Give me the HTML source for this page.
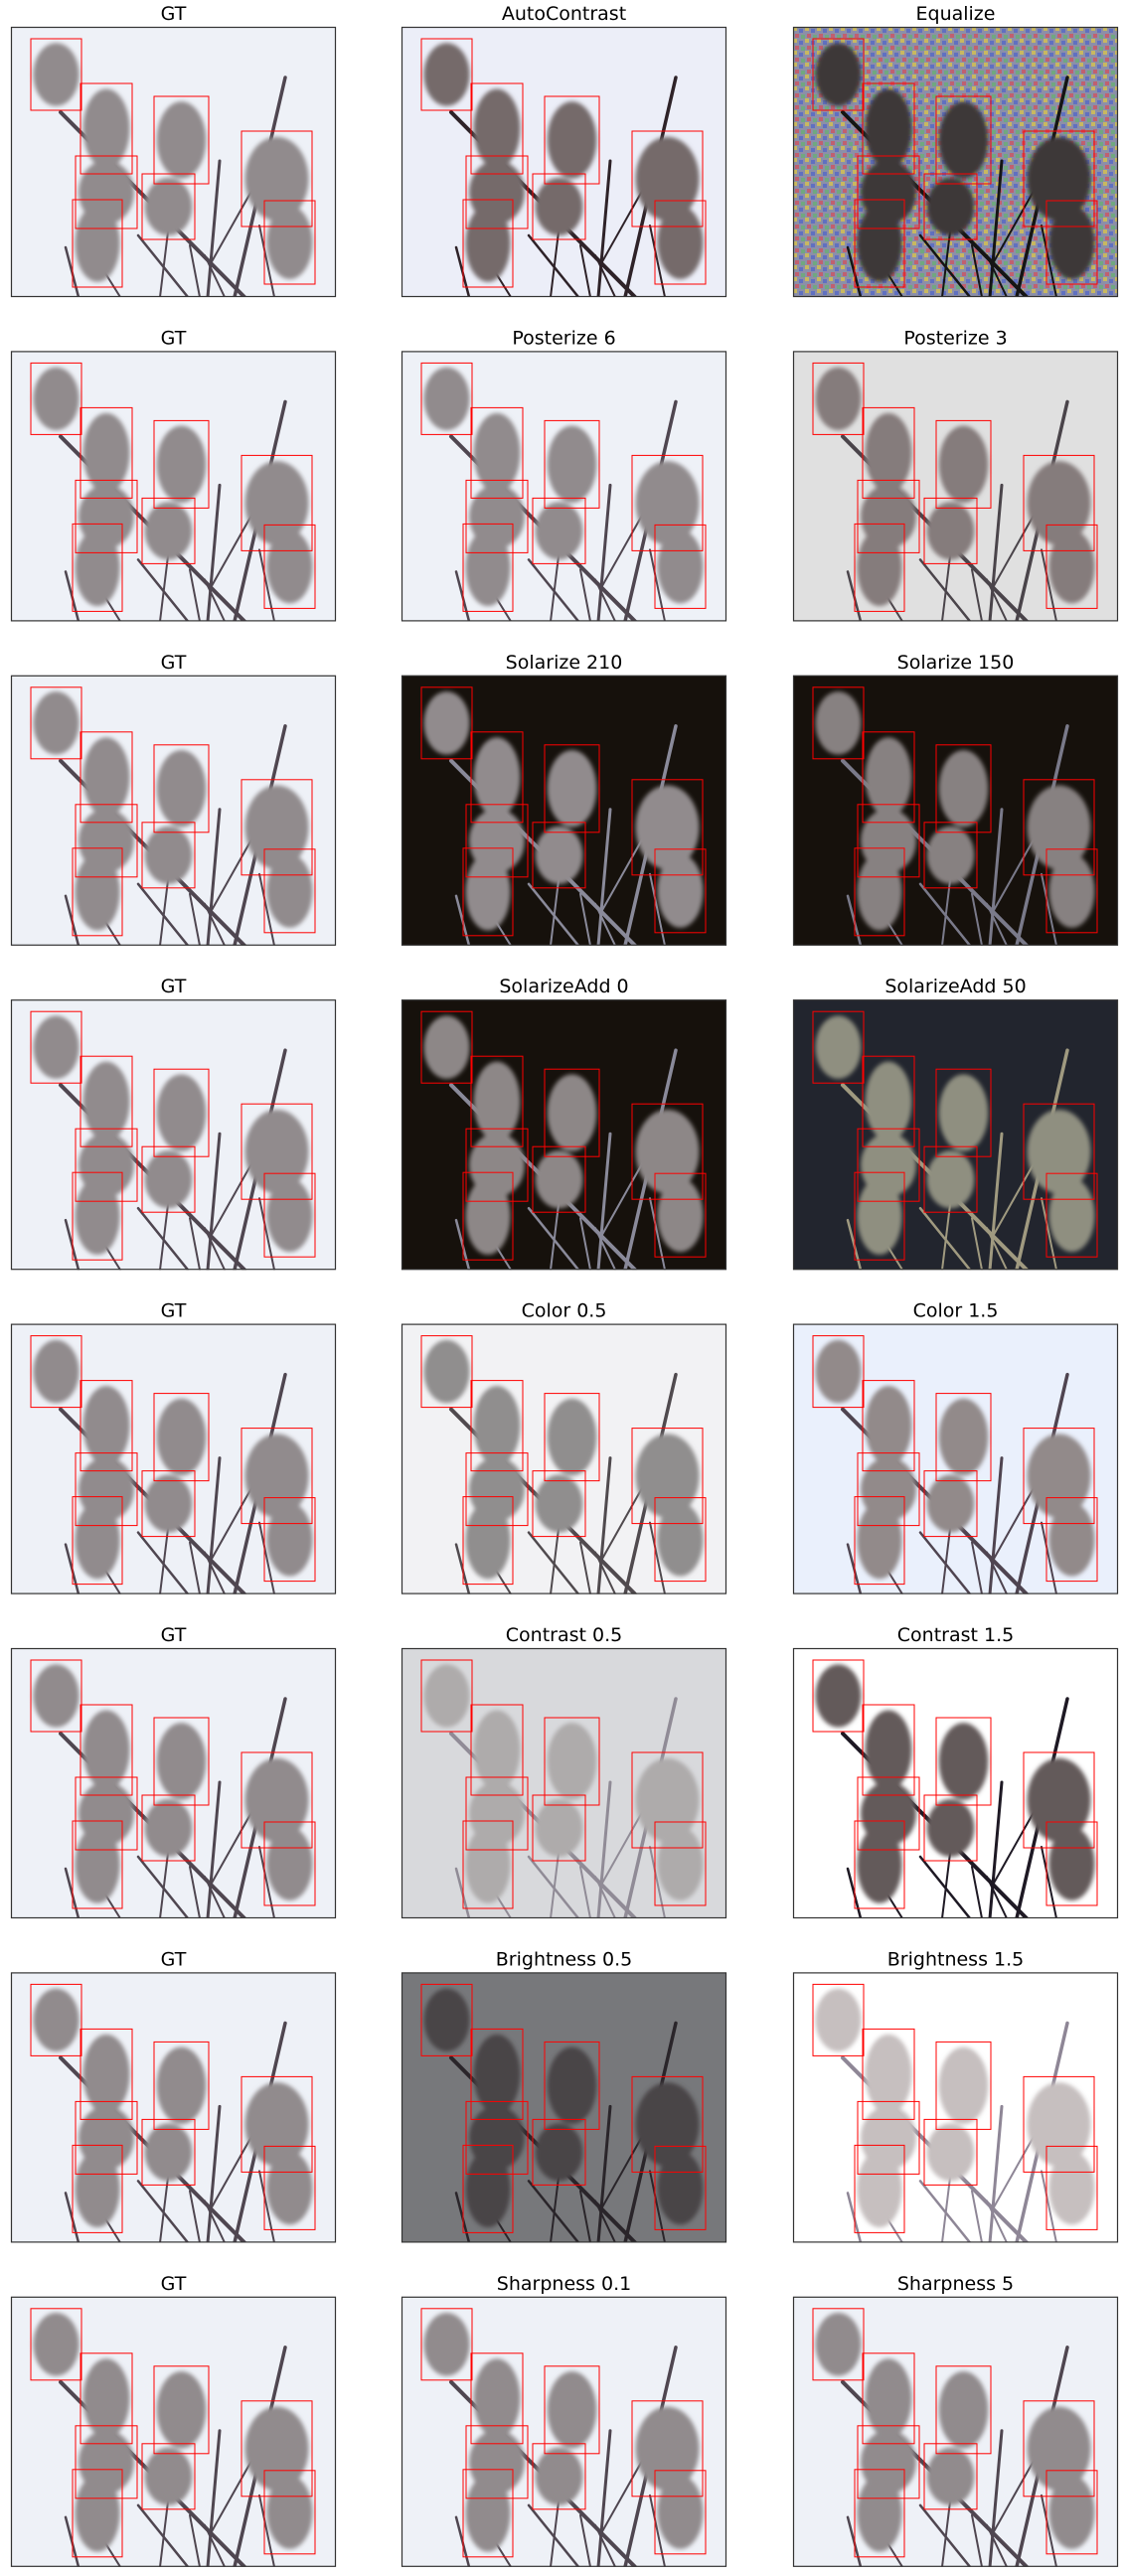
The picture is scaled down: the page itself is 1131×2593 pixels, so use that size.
<!DOCTYPE html>
<html><head><meta charset="utf-8"><style>
html,body{margin:0;padding:0;background:#fff}
svg{display:block}
</style></head><body>
<svg id="fig" width="1131" height="2593" viewBox="0 0 1131 2593" xmlns="http://www.w3.org/2000/svg">
<defs>
<pattern id="noise" width="12" height="12" patternUnits="userSpaceOnUse">
<rect width="12" height="12" fill="#8c8fa8"/>
<rect x="0" y="0" width="4" height="4" fill="#c8b860"/>
<rect x="6" y="2" width="4" height="4" fill="#6070c0"/>
<rect x="2" y="7" width="4" height="4" fill="#c06070"/>
<rect x="8" y="8" width="4" height="4" fill="#70a880"/>
</pattern>
<filter id="soft" x="-20%" y="-20%" width="140%" height="140%"><feGaussianBlur stdDeviation="2"/></filter>
</defs>
</svg>
<script>
const titles=[["GT","AutoContrast","Equalize"],["GT","Posterize 6","Posterize 3"],["GT","Solarize 210","Solarize 150"],["GT","SolarizeAdd 0","SolarizeAdd 50"],["GT","Color 0.5","Color 1.5"],["GT","Contrast 0.5","Contrast 1.5"],["GT","Brightness 0.5","Brightness 1.5"],["GT","Sharpness 0.1","Sharpness 5"]];
const boxX=[20,70,65,62,144,132,232,255];
const boxY=[12,57,130,174,70,148,105,175];
const boxW=[51,52,62,50,55,53,71,51];
const boxH=[72,91,73,88,88,66,96,84];
// colors: bg, bird, branch
const styles={
"GT":["#eef1f7","#918b8d","#4f4650"],
"AutoContrast":["#eceef8","#746a6a","#2e2228"],
"Equalize":["url(#noise)","#3e3838","#151515"],
"Posterize 6":["#eef1f7","#918b8d","#4f4650"],
"Posterize 3":["#e0e0e0","#857b7b","#4a444a"],
"Solarize 210":["#16110c","#918b8d","#8a8a9a"],
"Solarize 150":["#16110c","#878181","#7a7a8a"],
"SolarizeAdd 0":["#16110c","#8d8787","#8a8a9a"],
"SolarizeAdd 50":["#22252e","#8f8f80","#a09a80"],
"Color 0.5":["#f2f2f4","#908e8e","#504a4e"],
"Color 1.5":["#eaf0fc","#928a8a","#4f4450"],
"Contrast 0.5":["#d8d9dc","#aeabab","#908b96"],
"Contrast 1.5":["#ffffff","#645a5a","#1e1924"],
"Brightness 0.5":["#77787b","#4a4546","#2a252a"],
"Brightness 1.5":["#ffffff","#c6bfbf","#8e8696"],
"Sharpness 0.1":["#eef1f7","#918b8d","#4f4650"],
"Sharpness 5":["#eef1f7","#918b8d","#4f4650"]};
const colX=[11,404,798], PW=327, PH=272, rowStep=326.4, top0=27;
const NS="http://www.w3.org/2000/svg";
const svg=document.getElementById('fig');
function mk(t,a,p){const e=document.createElementNS(NS,t);for(const k in a)e.setAttribute(k,a[k]);p.appendChild(e);return e;}
const branches=[[50,86,235,272,4],[276,51,225,272,3.5],[210,135,198,272,3],[55,222,68,272,2.5],[128,210,178,272,2.5],[160,190,150,272,2],[250,200,265,272,2],[90,240,110,272,2],[195,230,215,272,2],[245,160,200,240,2],[180,220,190,272,2]];
for(let r=0;r<8;r++){for(let c=0;c<3;c++){
 const x0=colX[c], y0=top0+r*rowStep, t=titles[r][c], s=styles[t];
 const g=mk('g',{transform:`translate(${x0},${y0})`},svg);
 
 
 const tt=mk('text',{x:PW/2,y:-7,'text-anchor':'middle','font-family':'DejaVu Sans, Liberation Sans, sans-serif','font-size':'19',fill:'#000'},g);
 tt.textContent=t;
 
 
 const cp='cp'+r+c;
 const cl=mk('clipPath',{id:cp},g);mk('rect',{x:0,y:0,width:PW,height:PH},cl);
 const inner=mk('g',{'clip-path':`url(#${cp})`},g);
 mk('rect',{x:0,y:0,width:PW,height:PH,fill:s[0]},inner);
 branches.forEach(b=>mk('line',{x1:b[0],y1:b[1],x2:b[2],y2:b[3],stroke:s[2],'stroke-width':b[4],'stroke-linecap':'round'},inner));
 const bg=mk('g',{filter:'url(#soft)'},inner);
 for(let i=0;i<8;i++){
  const cx=boxX[i]+boxW[i]/2, cy=boxY[i]+boxH[i]/2;
  mk('ellipse',{cx:cx,cy:cy,rx:boxW[i]*0.45,ry:boxH[i]*0.44,fill:s[1]},bg);
 }
 for(let i=0;i<8;i++){
  const bx=mk('rect',{x:boxX[i],y:boxY[i],width:boxW[i],height:boxH[i],fill:'none',stroke:'#ff0000','stroke-width':1},inner);
  
  
 }
 mk('rect',{x:0.5,y:0.5,width:PW-1,height:PH-1,fill:'none',stroke:'#333','stroke-width':1.2},g);
}}
</script>
</body></html>
